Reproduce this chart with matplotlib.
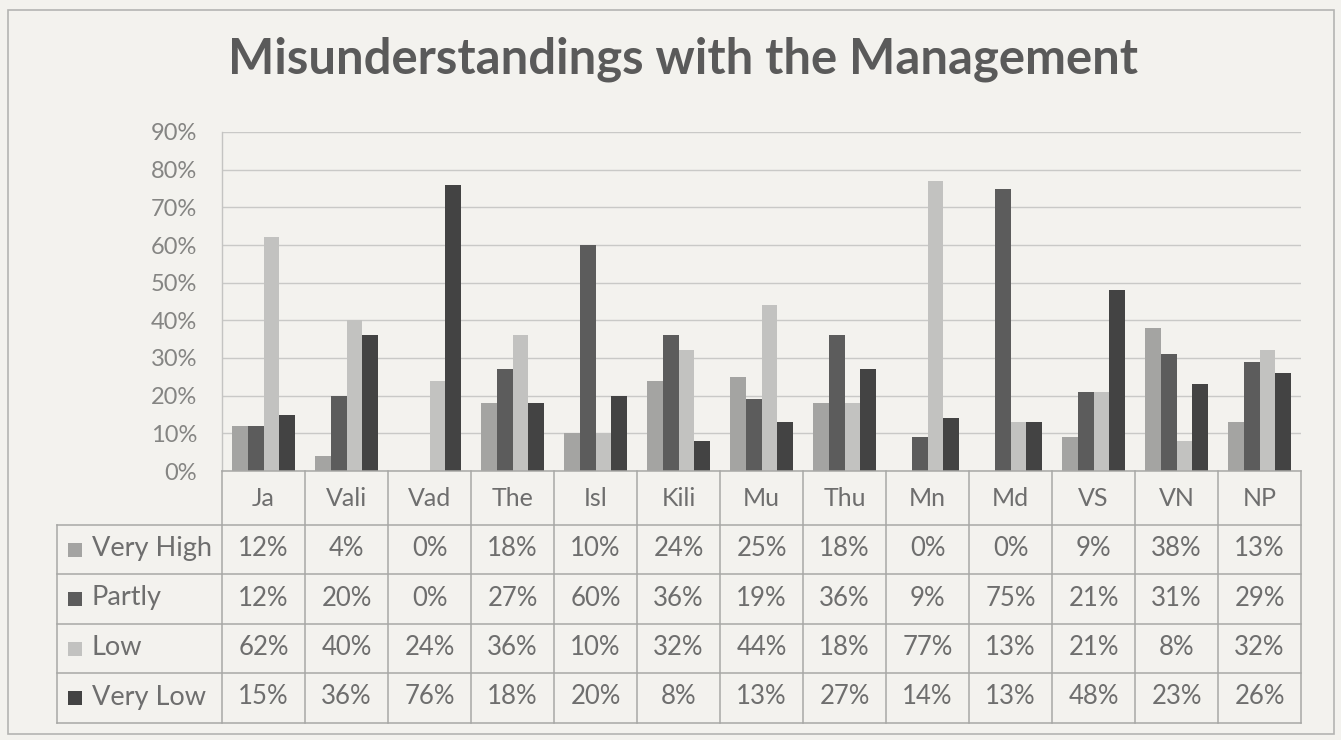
import matplotlib
matplotlib.use('Agg')
import matplotlib.pyplot as plt
from matplotlib.patches import Rectangle
from matplotlib.lines import Line2D
from matplotlib.transforms import blended_transform_factory

# ---- data ----
title = 'Misunderstandings with the Management'
categories = ['Ja', 'Vali', 'Vad', 'The', 'Isl', 'Kili', 'Mu', 'Thu', 'Mn', 'Md', 'VS', 'VN', 'NP']
series_names = ['Very High', 'Partly', 'Low', 'Very Low']
very_high = [12, 4, 0, 18, 10, 24, 25, 18, 0, 0, 9, 38, 13]
partly = [12, 20, 0, 27, 60, 36, 19, 36, 9, 75, 21, 31, 29]
low = [62, 40, 24, 36, 10, 32, 44, 18, 77, 13, 21, 8, 32]
very_low = [15, 36, 76, 18, 20, 8, 13, 27, 14, 13, 48, 23, 26]
y_ticks = [0, 10, 20, 30, 40, 50, 60, 70, 80, 90]

series_values = [very_high, partly, low, very_low]
colors = ['#a4a4a2', '#5c5c5c', '#c2c2c0', '#434343']

W_PX, H_PX = 1341, 740
BG = '#f3f2ee'
TXT = '#6e6e6e'
FONT = 'Lato'

fig = plt.figure(figsize=(W_PX / 100, H_PX / 100), dpi=100, facecolor=BG)

def fx(px):
    return px / W_PX

def fy(py):
    return 1 - py / H_PX

# outer border
fig.add_artist(Rectangle((fx(8), fy(734)), fx(1334) - fx(8), fy(10) - fy(734),
                         transform=fig.transFigure, fill=False, edgecolor='#b4b4b2', lw=1.2))

# plot area
left_px, right_px, top_px, bot_px = 222, 1301, 132, 471
ax = fig.add_axes([fx(left_px), fy(bot_px), fx(right_px) - fx(left_px), fy(top_px) - fy(bot_px)])
ax.set_facecolor(BG)
n = len(categories)
ax.set_xlim(-0.5, n - 0.5)
ax.set_ylim(0, 90)

w = 0.19
for j, (vals, c) in enumerate(zip(series_values, colors)):
    xs = [i + (j - 1.5) * w for i in range(n)]
    ax.bar(xs, vals, width=w, color=c, edgecolor='none', zorder=3)

ax.set_yticks(y_ticks)
ax.set_yticklabels([f'{t}%' for t in y_ticks], fontsize=17, color='#858583', family=FONT)
ax.tick_params(axis='y', length=0, pad=18)
ax.set_xticks([])
ax.grid(axis='y', color='#c9c9c7', lw=1, zorder=0)
for s in ['top', 'right', 'bottom']:
    ax.spines[s].set_visible(False)
ax.spines['left'].set_color('#c4c4c2')
ax.spines['left'].set_linewidth(1)

# ---- data table ----
tr = blended_transform_factory(ax.transData, fig.transFigure)
row_px = [471, 525, 574, 624, 673, 723]
label_left_x = -0.5 - (left_px - 57) / ((right_px - left_px) / n)
line_kw = dict(color='#a8a8a6', lw=1.1, transform=tr, clip_on=False)

# horizontal lines
fig.add_artist(Line2D([-0.5, n - 0.5], [fy(row_px[0])] * 2, **line_kw))
for py in row_px[1:]:
    fig.add_artist(Line2D([label_left_x, n - 0.5], [fy(py)] * 2, **line_kw))
# vertical lines
fig.add_artist(Line2D([label_left_x] * 2, [fy(row_px[1]), fy(row_px[-1])], **line_kw))
for i in range(n + 1):
    fig.add_artist(Line2D([i - 0.5] * 2, [fy(row_px[0]), fy(row_px[-1])], **line_kw))

# header labels
hy = fy((row_px[0] + row_px[1]) / 2 + 1)
for i, cat in enumerate(categories):
    fig.text(i, hy, cat, transform=tr, ha='center', va='center',
             fontsize=18, color=TXT, family=FONT)

# rows
for r, (name, vals, c) in enumerate(zip(series_names, series_values, colors)):
    cy = (row_px[r + 1] + row_px[r + 2]) / 2
    fig.add_artist(Rectangle((fx(68), fy(cy + 7)), fx(82) - fx(68), fy(cy - 7) - fy(cy + 7),
                             transform=fig.transFigure, facecolor=c, edgecolor='none'))
    fig.text(fx(92), fy(cy - 1), name, ha='left', va='center',
             fontsize=19.5, color=TXT, family=FONT)
    for i, v in enumerate(vals):
        fig.text(i, fy(cy - 1), f'{v}%', transform=tr, ha='center', va='center',
                 fontsize=18.5, color=TXT, family=FONT)

# title, sized to the reference width
t = fig.text(fx(683), fy(73), title, ha='center', va='baseline',
             fontsize=32, color='#5a5a5a', family=FONT, fontweight='bold')
fig.canvas.draw()
bb = t.get_window_extent(renderer=fig.canvas.get_renderer())
t.set_fontsize(32 * 910 / bb.width)

fig.savefig('out.png', dpi=100, facecolor=BG)
